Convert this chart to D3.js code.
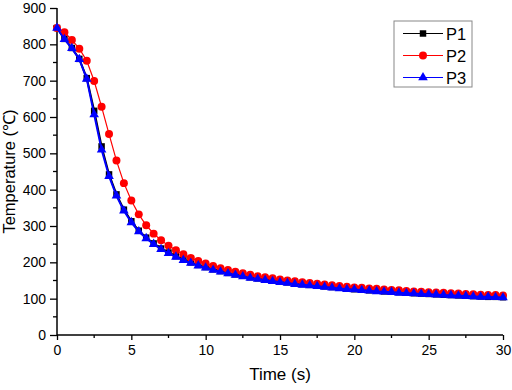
<!DOCTYPE html>
<html>
<head>
<meta charset="utf-8">
<script src="https://cdn.jsdelivr.net/npm/d3@7"></script>
<style>
  body { margin: 0; background: #fff; }
  text { font-family: Arial, "Liberation Sans", sans-serif; }
</style>
</head>
<body>
<div id="chart"></div>
<script>
// time steps every 0.5 s
const time = d3.range(0, 30.01, 0.5);
const p1 = [845, 815, 790, 760, 707, 617, 519, 442, 387, 345, 313, 287, 268, 252, 238, 227, 217, 208, 200, 193,
            187, 181, 176, 171, 167, 163, 159, 156, 153, 150, 147, 145, 142, 140, 138, 136, 134, 132, 130, 128,
            126, 125, 123, 122, 120, 119, 118, 117, 115, 114, 113, 112, 111, 110, 109, 108, 107, 106, 105, 105, 104];
const p2 = [845, 833, 812, 788, 755, 699, 628, 553, 480, 418, 370, 332, 302, 279, 261, 246, 233, 222, 212, 204,
            197, 190, 184, 179, 174, 170, 166, 162, 159, 156, 153, 150, 148, 145, 143, 141, 139, 137, 135, 133,
            131, 130, 128, 127, 125, 124, 123, 121, 120, 119, 118, 117, 116, 115, 114, 113, 112, 111, 110, 110, 109];
const p3 = [845, 814, 789, 759, 705, 607, 510, 437, 383, 342, 310, 285, 266, 250, 236, 225, 215, 206, 198, 191,
            185, 179, 174, 169, 165, 161, 157, 154, 151, 148, 145, 143, 140, 138, 136, 134, 132, 130, 128, 126,
            125, 123, 122, 120, 119, 118, 116, 115, 114, 113, 112, 111, 110, 109, 108, 107, 106, 105, 105, 104, 103];
const seriesNames = ["P1", "P2", "P3"];
const xTicks = [0, 5, 10, 15, 20, 25, 30];
const yTicks = [0, 100, 200, 300, 400, 500, 600, 700, 800, 900];

const width = 512, height = 390;
const margin = {top: 8, right: 9, bottom: 55, left: 57};

const svg = d3.select("#chart").append("svg")
  .attr("width", width)
  .attr("height", height);

const x = d3.scaleLinear().domain([0, 30]).range([margin.left, width - margin.right]);
const y = d3.scaleLinear().domain([0, 900]).range([height - margin.bottom, margin.top]);

const styles = [
  {color: "#000000", width: 2, symbol: d3.symbolSquare, size: 42},
  {color: "#ff0000", width: 1.2, symbol: d3.symbolCircle, size: 50},
  {color: "#0000ff", width: 2, symbol: d3.symbolTriangle, size: 40}
];
const allSeries = [p1, p2, p3];

// axes
const gx = svg.append("g")
  .attr("transform", `translate(0,${y(0)})`)
  .call(d3.axisBottom(x).tickValues(xTicks).tickSize(5).tickPadding(5).tickFormat(d3.format("d")));
gx.selectAll(".tick text").attr("font-size", 14).attr("fill", "#000");
gx.select(".domain").attr("stroke-width", 1.5).attr("d", `M${x(0)},0H${x(30)}`);
gx.selectAll(".tick line").attr("stroke-width", 1.3);
gx.selectAll(".minor").data([2.5, 7.5, 12.5, 17.5, 22.5, 27.5]).join("line")
  .attr("class", "minor")
  .attr("x1", d => x(d)).attr("x2", d => x(d))
  .attr("y1", 0).attr("y2", 3)
  .attr("stroke", "#000").attr("stroke-width", 1.3);

const gy = svg.append("g")
  .attr("transform", `translate(${x(0)},0)`)
  .call(d3.axisLeft(y).tickValues(yTicks).tickSize(7).tickPadding(4));
gy.selectAll(".tick text").attr("font-size", 14).attr("fill", "#000");
gy.select(".domain").attr("stroke-width", 1.5).attr("d", `M0,${y(0)}V${y(900)}`);
gy.selectAll(".tick line").attr("stroke-width", 1.3);
gy.selectAll(".minor").data(d3.range(50, 900, 100)).join("line")
  .attr("class", "minor")
  .attr("y1", d => y(d)).attr("y2", d => y(d))
  .attr("x1", 0).attr("x2", -4)
  .attr("stroke", "#000").attr("stroke-width", 1.3);

// axis titles
svg.append("text")
  .attr("x", (x(0) + x(30)) / 2)
  .attr("y", 380)
  .attr("text-anchor", "middle")
  .attr("font-size", 17)
  .text("Time (s)");

svg.append("text")
  .attr("transform", `translate(15,${(y(0) + y(900)) / 2}) rotate(-90)`)
  .attr("text-anchor", "middle")
  .attr("font-size", 16.5)
  .text("Temperature (℃)");

// series
const line = d3.line().x((d, i) => x(time[i])).y(d => y(d));
allSeries.forEach((vals, k) => {
  const st = styles[k];
  const g = svg.append("g");
  g.append("path")
    .datum(vals)
    .attr("fill", "none")
    .attr("stroke", st.color)
    .attr("stroke-width", st.width)
    .attr("d", line);
  g.selectAll("path.mark").data(vals).join("path")
    .attr("class", "mark")
    .attr("transform", (d, i) => `translate(${x(time[i])},${y(d)})`)
    .attr("d", d3.symbol().type(st.symbol).size(st.size))
    .attr("fill", st.color);
});

// legend
const legend = svg.append("g").attr("transform", "translate(394,21)");
legend.append("rect")
  .attr("width", 78).attr("height", 66)
  .attr("fill", "#fff")
  .attr("stroke", "#888").attr("stroke-width", 1);
seriesNames.forEach((name, k) => {
  const st = styles[k];
  const cy = 12.5 + k * 22;
  legend.append("line")
    .attr("x1", 9).attr("x2", 49)
    .attr("y1", cy).attr("y2", cy)
    .attr("stroke", st.color).attr("stroke-width", 1.2);
  legend.append("path")
    .attr("transform", `translate(29,${cy})`)
    .attr("d", d3.symbol().type(st.symbol).size(st.size))
    .attr("fill", st.color);
  legend.append("text")
    .attr("x", 52).attr("y", cy + 6)
    .attr("font-size", 16.5)
    .text(name);
});
</script>
</body>
</html>
